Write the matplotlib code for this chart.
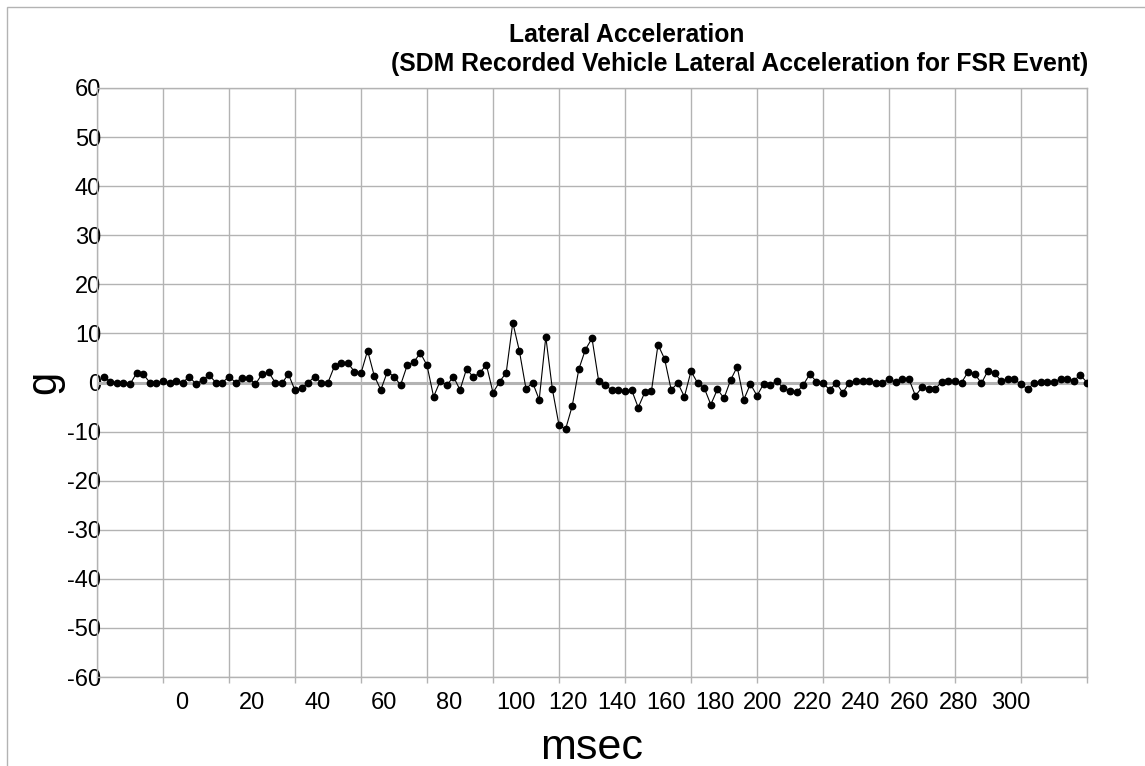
import matplotlib
matplotlib.use("Agg")
import matplotlib.pyplot as plt
from matplotlib.patches import Rectangle
from matplotlib.ticker import MultipleLocator, FixedLocator

plt.rcParams['font.family'] = ['Liberation Sans', 'DejaVu Sans']
plt.rcParams['axes.unicode_minus'] = False

# sample times (msec) and recorded lateral acceleration (g)
msec = list(range(2, 302, 2))
accel_g = [
    1.2, 0.15, 0, 0, -0.35, 1.9, 1.7, 0, -0.15, 0.35,
    -0.15, 0.35, 0, 1.2, -0.35, 0.55, 1.5, 0, 0, 1.2,
    0, 1.0, 1.0, -0.35, 1.7, 2.1, 0, -0.2, 1.7, -1.6,
    -1.2, 0, 1.2, 0, 0, 3.4, 4.0, 4.0, 2.2, 1.9,
    6.5, 1.4, -1.5, 2.2, 1.2, -0.5, 3.5, 4.2, 6.0, 3.5,
    -2.9, 0.3, -0.6, 1.2, -1.5, 2.8, 1.1, 2.0, 3.6, -2.1,
    0.15, 2.0, 12.2, 6.4, -1.3, 0, -3.5, 9.3, -1.4, -8.7,
    -9.5, -4.8, 2.7, 6.7, 9.0, 0.4, -0.55, -1.5, -1.5, -1.8,
    -1.5, -5.1, -2.0, -1.8, 7.7, 4.8, -1.5, -0.1, -2.9, 2.3,
    -0.1, -1.1, -4.5, -1.4, -3.2, 0.5, 3.2, -3.5, -0.3, -2.7,
    -0.3, -0.5, 0.3, -1.2, -1.7, -2.0, -0.5, 1.7, 0.2, -0.1,
    -1.5, -0.1, -2.1, 0.0, 0.3, 0.3, 0.3, 0, 0, 0.7,
    0.05, 0.8, 0.8, -2.7, -1.0, -1.3, -1.3, 0.15, 0.3, 0.3,
    0, 2.2, 1.75, -0.15, 2.4, 1.9, 0.3, 0.7, 0.7, -0.4,
    -1.3, -0.15, 0.15, 0.15, 0.15, 0.7, 0.7, 0.4, 1.5, 0,
]

# category-style tick labels as they sit under the axis in the original
tick_labels = ["0", "20", "40", "60", "80", "100", "120", "140", "160",
               "180", "200", "220", "240", "260", "280", "300"]
tick_label_pos = [25.8, 47, 67, 86.8, 106.8, 127, 142.6, 157.6, 172.4,
                  187.3, 201.8, 216.7, 231.5, 246.2, 261.2, 277]

W, H = 1145, 766
grid_c = "#b3b3b3"

fig = plt.figure(figsize=(W / 100, H / 100), dpi=100)
fig.subplots_adjust(left=97 / W, right=1087 / W, top=1 - 88 / H, bottom=1 - 677 / H)
ax = fig.add_subplot(111)

ax.plot(msec, accel_g, color="black", lw=0.8, marker="o", ms=4.6, zorder=3)

ax.set_xlim(0, 300)
ax.set_ylim(-60, 60)
ax.yaxis.set_major_locator(MultipleLocator(10))
ax.xaxis.set_minor_locator(MultipleLocator(20))
ax.xaxis.set_major_locator(FixedLocator(tick_label_pos))
ax.set_xticklabels(tick_labels)

ax.grid(True, which="minor", axis="x", color=grid_c, lw=1)
ax.grid(True, which="major", axis="y", color=grid_c, lw=1)
ax.axhline(0, color=grid_c, lw=2.2, zorder=2)

ax.tick_params(axis="x", which="major", length=0, pad=11, labelsize=17)
ax.tick_params(axis="x", which="minor", length=4.5, color=grid_c, width=1)
ax.tick_params(axis="y", length=0, pad=-3, labelsize=17)

for s in ax.spines.values():
    s.set_color(grid_c)
    s.set_linewidth(1)

ax.set_xlabel("msec", fontsize=31, labelpad=10)
ax.set_ylabel("g", fontsize=30, labelpad=2)

fig.text(627 / W, 1 - 35 / H, "Lateral Acceleration", ha="center", va="center",
         fontsize=17.8, fontweight="bold")
fig.text(740 / W, 1 - 64 / H, "(SDM Recorded Vehicle Lateral Acceleration for FSR Event)",
         ha="center", va="center", fontsize=17.8, fontweight="bold")

# thin outer frame of the original page
fig.patches.append(Rectangle((7 / W, -0.05), 1.2, 1 - 7 / H + 0.05, transform=fig.transFigure,
                             fill=False, edgecolor=grid_c, lw=1))

fig.savefig("out.png", dpi=100)
